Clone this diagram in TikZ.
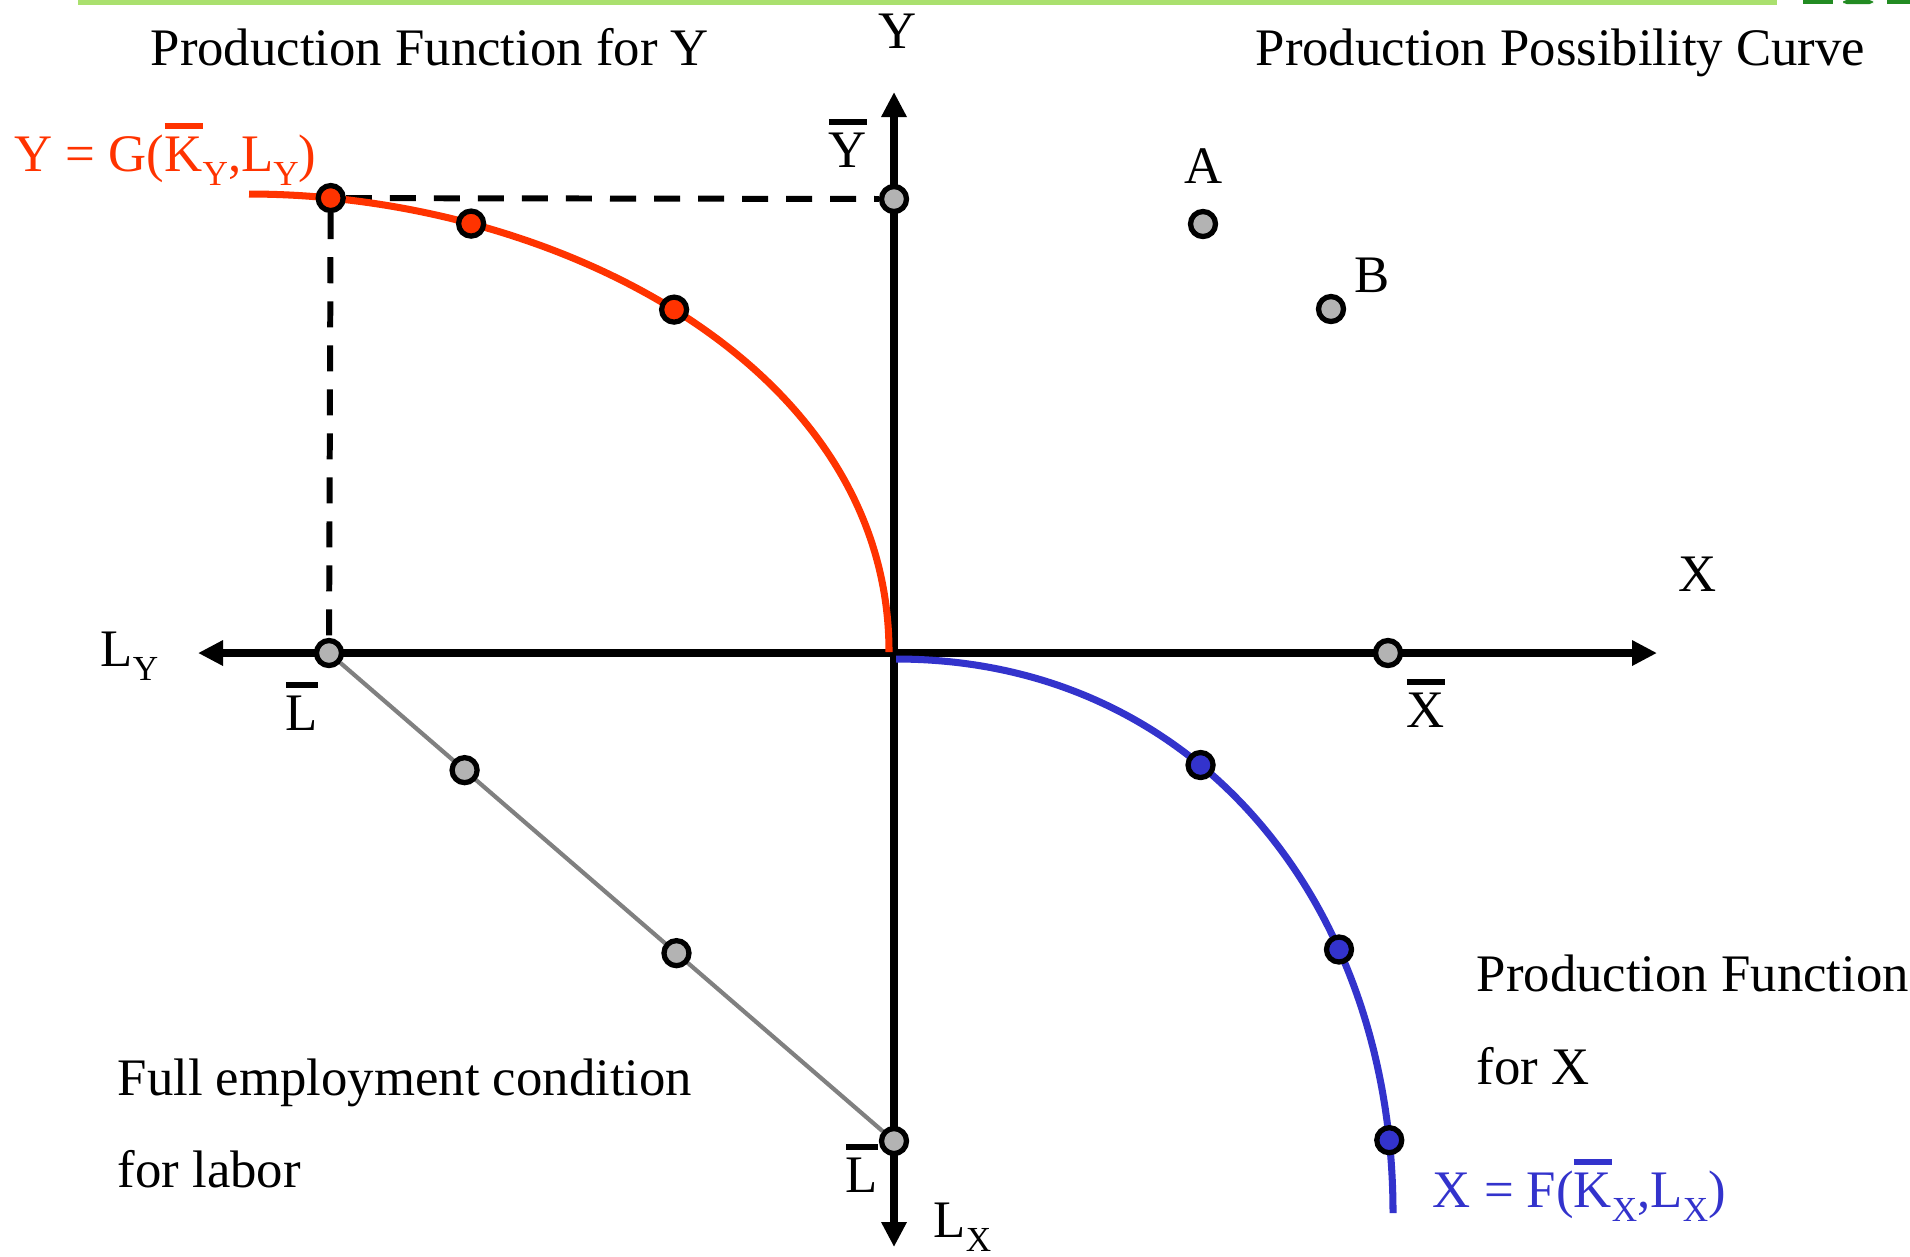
\documentclass[tikz,border=0pt]{standalone}
\usepackage{fontspec}
\setmainfont{Liberation Serif}
\usepackage{tikz}
\usetikzlibrary{arrows.meta,backgrounds,calc}
\definecolor{redY}{RGB}{255,51,0}
\definecolor{blueX}{RGB}{51,51,204}
\definecolor{dotgray}{RGB}{179,179,179}
\definecolor{linegray}{RGB}{128,128,128}
\definecolor{topgreen}{RGB}{170,224,110}
\definecolor{logogreen}{RGB}{34,139,34}
\tikzstyle{vertex}=[circle, draw=black, line width=1.5pt, inner sep=0pt, minimum size=0.25cm, fill=dotgray]
\tikzstyle{lbl}=[inner sep=0pt]
\tikzstyle{axis}=[line width=2.3pt, arrows={Triangle[length=2.5mm,width=2.4mm]-Triangle[length=2.5mm,width=2.4mm]}]
\tikzstyle{pfY}=[redY, line width=2pt]
\tikzstyle{pfX}=[blueX, line width=2pt]
\tikzstyle{guide}=[line width=1.7pt, dash pattern=on 2.6mm off 1.8mm]
\newcommand{\vertex}{\node[vertex]}
\newcommand{\barred}[1]{\setbox0\hbox{#1}\rlap{\raisebox{\dimexpr\ht0+2pt\relax}{\rule{\wd0}{1.7pt}}}\box0}
\newcommand{\subtxt}[1]{\raisebox{-4pt}{\fontsize{10}{12}\selectfont #1}}

\begin{document}
\begin{tikzpicture}[x=0.01cm, y=-0.01cm, font=\fontsize{15}{18}\selectfont]
\useasboundingbox (0,0) rectangle (1910,1256);

% top rule
\fill[topgreen] (78,0) rectangle (1777,5);
\fill[logogreen] (1803,0) rectangle (1833,4);
\fill[logogreen, rounded corners=1pt] (1843,0) rectangle (1873,4);
\fill[logogreen] (1887,0) rectangle (1910,4);

% axes ends
\coordinate (O) at (894,653);
\coordinate (lyend) at (198,653);
\coordinate (xend) at (1657,653);
\coordinate (yend) at (894,92);
\coordinate (lxend) at (894,1247);
\coordinate (ystart) at (249,194);
\coordinate (yorig) at (889,652);
\coordinate (xorig) at (896,659);
\coordinate (xstop) at (1393,1213);

% production functions, with their points
\draw[pfY] (ystart) .. controls (549,194) and (889,362) .. (yorig)
  node[vertex, fill=redY, pos=0.09] (r1) {}
  node[vertex, fill=redY, pos=0.245] (r2) {}
  node[vertex, fill=redY, pos=0.49] (r3) {};
\draw[pfX] (xorig) .. controls (1196,659) and (1393,904) .. (xstop)
  node[vertex, fill=blueX, pos=0.4] (b1) {}
  node[vertex, fill=blueX, pos=0.69] (b2) {}
  node[vertex, fill=blueX, pos=0.92] (b3) {};

% other points
\vertex (ybar) at (894,199) {};
\vertex (A) at (1203,224) {};
\vertex (B) at (1331,309) {};
\vertex (lbar) at (329,653) {};
\vertex (xbar) at (1388,653) {};
\vertex (lbarx) at (894,1141) {};
\vertex (g1) at ($(lbar)!0.24!(lbarx)$) {};
\vertex (g2) at ($(lbar)!0.615!(lbarx)$) {};

\begin{scope}[on background layer]
\draw[axis] (lyend) -- (xend);
\draw[axis] (yend) -- (lxend);
\draw[linegray, line width=1.2pt] (lbar) -- (lbarx);
\draw[guide] (r1) -- (ybar);
\draw[guide] (r1) -- (lbar);
\end{scope}

% labels
\node[lbl, anchor=base west] (titleY) at (150,65) {Production Function for Y};
\node[lbl, anchor=base] (ylab) at (898,48) {Y};
\node[lbl, anchor=base west] (titlePPC) at (1255,65) {Production Possibility Curve};
\node[lbl, anchor=base west, text=redY] (Geq) at (14,171) {Y = G(\barred{K}\subtxt{Y},L\subtxt{Y})};
\node[lbl, anchor=base] (ybarlab) at (848,167) {\barred{Y}};
\node[lbl, anchor=base] (Alab) at (1204,183) {A};
\node[lbl, anchor=base] (Blab) at (1372,292) {B};
\node[lbl, anchor=base] (xlab) at (1698,591) {X};
\node[lbl, anchor=base west] (lylab) at (100,666) {L\subtxt{Y}};
\node[lbl, anchor=base] (lbarlab) at (302,730) {\barred{L}};
\node[lbl, anchor=base] (xbarlab) at (1426,727) {\barred{X}};
\node[lbl, anchor=base] (lbarxlab) at (862,1192) {\barred{L}};
\node[lbl, anchor=base west] (lxlab) at (933,1237) {L\subtxt{X}};
\node[lbl, anchor=base west] (pfx1) at (1476,991) {Production Function};
\node[lbl, anchor=base west] (pfx2) at (1476,1084) {for X};
\node[lbl, anchor=base west] (fe1) at (117,1095) {Full employment condition};
\node[lbl, anchor=base west] (fe2) at (117,1187) {for labor};
\node[lbl, anchor=base west, text=blueX] (Feq) at (1432,1207) {X = F(\barred{K}\subtxt{X},L\subtxt{X})};
\end{tikzpicture}
\end{document}
